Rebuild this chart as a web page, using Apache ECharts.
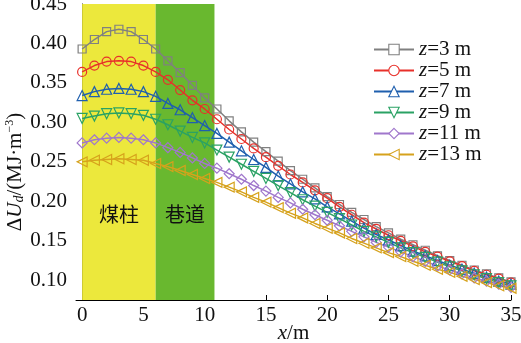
<!DOCTYPE html>
<html>
<head>
<meta charset="utf-8">
<script src="https://cdn.jsdelivr.net/npm/echarts@6/dist/echarts.min.js"></script>
<style>html,body{margin:0;padding:0;background:#fff;}#c{width:521px;height:343px;}</style>
</head>
<body>
<div id="c"></div>
<script>
const xValues = [0,1,2,3,4,5,6,7,8,9,10,11,12,13,14,15,16,17,18,19,20,21,22,23,24,25,26,27,28,29,30,31,32,33,34,35];
const seriesNames = ['z=3 m','z=5 m','z=7 m','z=9 m','z=11 m','z=13 m'];
const z3 = [0.393,0.405,0.415,0.418,0.415,0.405,0.393,0.378,0.363,0.347,0.331,0.317,0.302,0.288,0.275,0.263,0.251,0.239,0.228,0.217,0.206,0.196,0.186,0.177,0.168,0.160,0.152,0.145,0.138,0.131,0.125,0.119,0.113,0.108,0.103,0.098];
const z5 = [0.364,0.372,0.377,0.378,0.377,0.372,0.364,0.354,0.341,0.328,0.317,0.304,0.291,0.279,0.267,0.256,0.245,0.234,0.224,0.214,0.204,0.193,0.183,0.173,0.165,0.157,0.150,0.143,0.136,0.130,0.124,0.118,0.112,0.107,0.102,0.097];
const z7 = [0.334,0.339,0.342,0.343,0.342,0.339,0.333,0.324,0.316,0.306,0.296,0.286,0.275,0.264,0.253,0.243,0.232,0.222,0.212,0.203,0.193,0.184,0.175,0.166,0.158,0.151,0.144,0.137,0.131,0.125,0.119,0.114,0.109,0.104,0.099,0.095];
const z9 = [0.305,0.308,0.311,0.312,0.311,0.309,0.304,0.297,0.289,0.281,0.274,0.265,0.256,0.247,0.238,0.229,0.220,0.211,0.202,0.194,0.186,0.178,0.170,0.162,0.155,0.148,0.141,0.135,0.129,0.123,0.117,0.112,0.107,0.102,0.097,0.093];
const z11 = [0.274,0.278,0.280,0.281,0.280,0.278,0.274,0.268,0.262,0.255,0.248,0.242,0.235,0.228,0.220,0.213,0.205,0.198,0.190,0.183,0.176,0.169,0.162,0.155,0.148,0.142,0.136,0.130,0.124,0.118,0.113,0.108,0.103,0.099,0.095,0.091];
const z13 = [0.250,0.252,0.253,0.254,0.253,0.252,0.248,0.244,0.239,0.234,0.229,0.224,0.218,0.212,0.205,0.199,0.192,0.185,0.179,0.172,0.166,0.160,0.153,0.147,0.141,0.135,0.130,0.124,0.119,0.114,0.110,0.105,0.101,0.097,0.093,0.090];
const xTicks = [0,5,10,15,20,25,30,35];
const yTicks = [0.10,0.15,0.20,0.25,0.30,0.35,0.40,0.45];
const zoneNames = ['煤柱','巷道'];
const zoneBounds = [[0,6],[6,10.8]];

const allData = [z3,z5,z7,z9,z11,z13];
const colors = ['#808080','#e8302a','#1f5fae','#2aa264','#a077cc','#d6a21c'];
const symbols = ['rect','circle','triangle','triangle','diamond','triangle'];
const rotations = [0,0,0,180,0,90];
const zoneColors = ['#ece83c','#69b82f'];

const serif = 'Liberation Serif';
const series = allData.map((d,i)=>{
  const s = {
    name: seriesNames[i],
    type: 'line',
    color: colors[i],
    data: xValues.map((x,j)=>[x,d[j]]),
    symbol: symbols[i],
    symbolRotate: rotations[i],
    symbolSize: symbols[i]==='rect' ? 8 : (symbols[i]==='circle' ? 9 : 10),
    showAllSymbol: true,
    lineStyle: {color: colors[i], width: 1.5},
    itemStyle: {color: 'rgba(255,255,255,0)', borderColor: colors[i], borderWidth: 1.2},
    emphasis: {disabled: true},
    z: 3
  };
  if (i === 0) {
    s.markArea = {
      silent: true,
      z: 1,
      data: zoneBounds.map((b,k)=>[
        {xAxis: b[0], itemStyle: {color: zoneColors[k]},
         label: {show: true, formatter: zoneNames[k], position: ['50%','71%'], align: 'center', verticalAlign: 'middle',
                 fontFamily: 'Noto Sans CJK SC', fontSize: 20, color: '#111'}},
        {xAxis: b[1]}
      ])
    };
  }
  return s;
});

const chart = echarts.init(document.getElementById('c'), null, {renderer: 'canvas'});
chart.setOption({
  animation: false,
  backgroundColor: '#fff',
  grid: {left: 76, right: 10, top: 4, bottom: 43, outerBoundsMode: 'none', containLabel: false},
  legend: {
    orient: 'vertical',
    left: 368, top: 34,
    itemWidth: 40, itemHeight: 13, itemGap: 0,
    data: seriesNames,
    itemStyle: {color: '#fff', borderWidth: 1.1},
    textStyle: {fontFamily: serif, fontSize: 21, color: '#111', lineHeight: 20,
      rich: {i: {fontFamily: serif, fontStyle: 'italic', fontSize: 21, color: '#111'},
             n: {fontFamily: serif, fontSize: 21, color: '#111'}}},
    formatter: name => '{i|z}{n|' + name.slice(1) + '}'
  },
  xAxis: {
    type: 'value', min: -0.5, max: 35,
    axisLine: {lineStyle: {color: '#000', width: 1}},
    axisTick: {inside: true, length: 5, lineStyle: {color: '#000'}, customValues: xTicks},
    axisLabel: {customValues: xTicks, fontFamily: serif, fontSize: 21, color: '#111', margin: 5},
    splitLine: {show: false},
    name: '{i|x}{n|/m}', nameLocation: 'middle', nameGap: 23, nameMoveOverlap: false,
    nameTextStyle: {rich: {i: {fontFamily: serif, fontStyle: 'italic', fontSize: 21, color: '#111'},
                           n: {fontFamily: serif, fontSize: 21, color: '#111'}}}
  },
  yAxis: {
    type: 'value', min: 0.075, max: 0.45,
    axisLine: {show: true, lineStyle: {color: '#000', width: 1}},
    axisTick: {show: true, inside: true, length: 5, lineStyle: {color: '#000'}, customValues: yTicks},
    axisLabel: {customValues: yTicks, fontFamily: serif, fontSize: 21, color: '#111', margin: 9,
                formatter: v => v.toFixed(2)},
    splitLine: {show: false},
    name: '{n|Δ}{i|U}{s|d}{n|/(MJ·m}{p|−3}{n|)}', nameLocation: 'middle', nameGap: 50, nameRotate: 90, nameMoveOverlap: false,
    nameTextStyle: {padding: [0, 40, 0, 0], rich: {
      i: {fontFamily: serif, fontStyle: 'italic', fontSize: 21, color: '#111'},
      n: {fontFamily: serif, fontSize: 21, color: '#111'},
      s: {fontFamily: serif, fontStyle: 'italic', fontSize: 14, color: '#111', verticalAlign: 'bottom', padding: [8,0,0,0]},
      p: {fontFamily: serif, fontSize: 12, color: '#111', verticalAlign: 'top', padding: [0,0,8,0]}
    }}
  },
  series: series
});
</script>
</body>
</html>
